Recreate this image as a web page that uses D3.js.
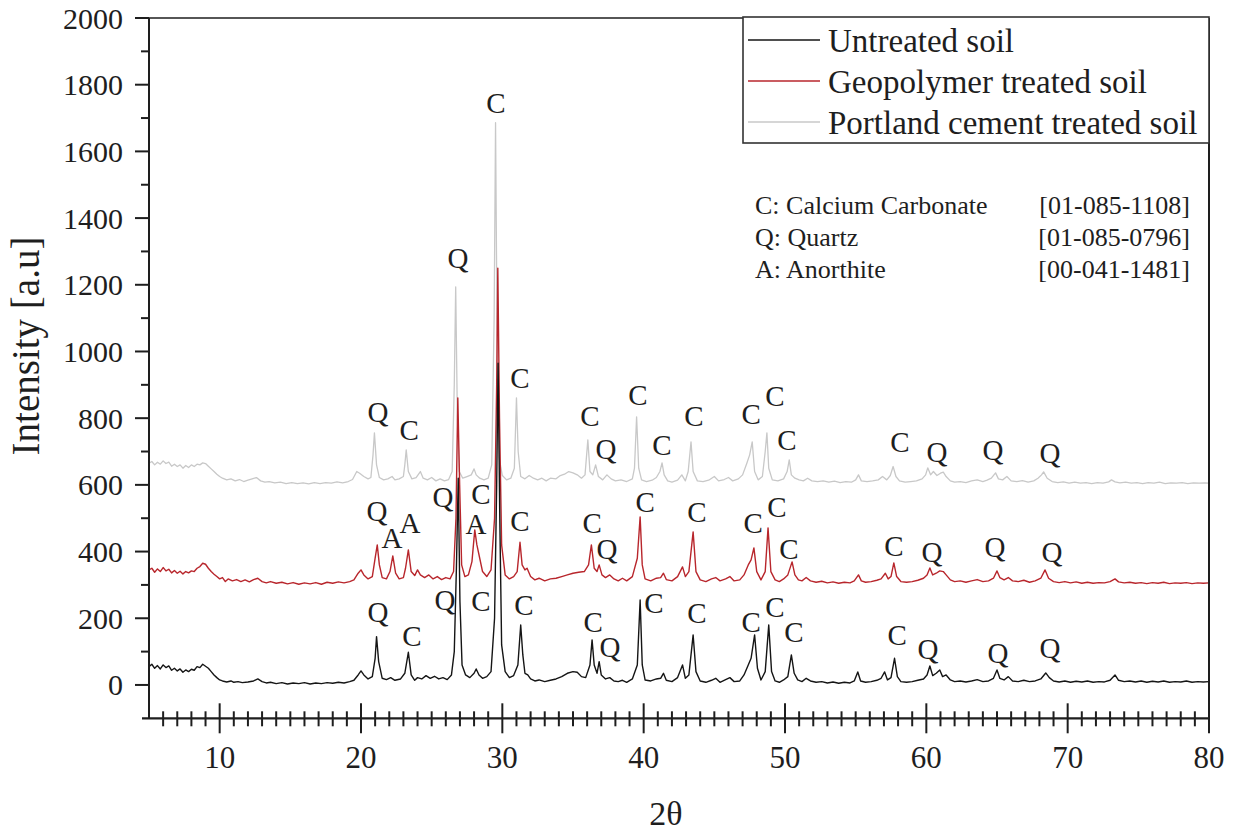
<!DOCTYPE html>
<html><head><meta charset="utf-8">
<script src="https://cdn.jsdelivr.net/npm/d3@7"></script>
<style>body{margin:0;background:#fff}svg{display:block}</style>
</head><body>
<svg id="chart" width="1238" height="834"></svg>
<script>
// ---------- DATA ----------
const seriesNames = ["Untreated soil", "Geopolymer treated soil", "Portland cement treated soil"];
const xTicksMajor = [10, 20, 30, 40, 50, 60, 70, 80];
const yTicksMajor = [0, 200, 400, 600, 800, 1000, 1200, 1400, 1600, 1800, 2000];

// [2theta, intensity]
const untreated = [
[5.0,55],[5.2,62],[5.4,50],[5.6,58],[5.8,48],[6.0,60],[6.2,52],[6.4,57],[6.6,44],[6.8,50],[7.0,42],[7.2,48],[7.4,38],[7.6,45],[7.8,40],[8.0,47],[8.2,44],[8.4,55],[8.6,52],[8.8,62],[9.0,56],[9.2,50],[9.4,40],[9.6,30],[9.8,22],[10.0,15],[10.2,12],[10.5,9],[10.8,12],[11.0,8],[11.3,10],[11.6,7],[12.0,9],[12.4,12],[12.7,18],[13.0,10],[13.3,6],[13.6,8],[14.0,4],[14.4,7],[14.8,3],[15.2,6],[15.6,4],[16.0,7],[16.4,3],[16.8,6],[17.2,4],[17.6,7],[18.0,5],[18.4,8],[18.8,6],[19.2,10],[19.5,14],[19.8,30],[20.0,42],[20.2,30],[20.5,18],[20.8,25],[21.0,80],[21.1,145],[21.25,70],[21.5,20],[21.8,16],[22.1,22],[22.4,14],[22.8,18],[23.1,35],[23.35,98],[23.55,30],[23.8,14],[24.0,22],[24.3,18],[24.6,28],[24.9,20],[25.2,26],[25.5,18],[25.8,22],[26.1,16],[26.4,30],[26.6,100],[26.75,350],[26.88,620],[27.0,250],[27.15,60],[27.4,30],[27.7,22],[28.0,35],[28.15,48],[28.35,30],[28.6,20],[28.9,25],[29.2,40],[29.45,200],[29.6,600],[29.7,965],[29.82,500],[29.95,120],[30.2,40],[30.5,22],[30.8,28],[31.1,60],[31.3,180],[31.45,90],[31.6,35],[31.8,30],[32.0,18],[32.3,12],[32.6,15],[33.0,10],[33.4,14],[33.8,18],[34.2,25],[34.6,35],[35.0,40],[35.3,38],[35.6,25],[35.9,22],[36.2,60],[36.35,135],[36.5,60],[36.7,35],[36.85,70],[37.0,30],[37.3,18],[37.6,22],[37.9,12],[38.2,10],[38.5,14],[38.8,8],[39.2,18],[39.55,60],[39.75,255],[39.9,60],[40.1,15],[40.5,12],[40.9,18],[41.2,20],[41.4,35],[41.6,14],[42.0,10],[42.4,22],[42.75,60],[42.95,20],[43.2,30],[43.5,150],[43.7,40],[44.0,12],[44.4,8],[44.8,14],[45.1,20],[45.4,8],[45.8,16],[46.1,22],[46.4,10],[46.8,12],[47.1,30],[47.4,60],[47.6,80],[47.85,150],[48.05,50],[48.3,15],[48.6,40],[48.85,180],[49.05,40],[49.3,12],[49.6,8],[49.9,15],[50.2,25],[50.45,90],[50.65,35],[50.9,15],[51.2,10],[51.5,20],[51.8,12],[52.2,8],[52.6,10],[53.0,6],[53.4,9],[53.8,5],[54.2,8],[54.6,6],[54.9,12],[55.15,39],[55.35,12],[55.7,8],[56.1,10],[56.5,14],[56.8,20],[57.05,39],[57.25,15],[57.5,22],[57.75,80],[57.95,25],[58.2,10],[58.6,8],[59.0,10],[59.4,14],[59.8,18],[60.05,30],[60.25,57],[60.45,28],[60.7,35],[60.95,45],[61.15,25],[61.4,30],[61.7,15],[62.0,10],[62.4,12],[62.8,9],[63.2,12],[63.6,16],[64.0,10],[64.4,12],[64.75,20],[65.0,45],[65.2,20],[65.5,15],[65.8,25],[66.1,12],[66.5,10],[66.9,14],[67.3,10],[67.7,12],[68.1,18],[68.45,36],[68.7,22],[69.0,12],[69.4,9],[69.8,12],[70.2,8],[70.6,11],[71.0,9],[71.4,12],[71.8,8],[72.2,10],[72.6,9],[73.0,14],[73.35,30],[73.6,14],[74.0,10],[74.4,12],[74.8,9],[75.2,12],[75.6,8],[76.0,11],[76.4,9],[76.8,12],[77.2,8],[77.6,10],[78.0,9],[78.4,12],[78.8,8],[79.2,10],[79.6,9],[80.0,10]
];
const geopolymer = [
[5.0,345],[5.2,350],[5.4,338],[5.6,348],[5.8,340],[6.0,352],[6.2,342],[6.4,347],[6.6,336],[6.8,343],[7.0,335],[7.2,341],[7.4,333],[7.6,340],[7.8,336],[8.0,342],[8.2,340],[8.4,350],[8.6,355],[8.8,365],[9.0,362],[9.2,350],[9.4,340],[9.6,332],[9.8,325],[10.0,318],[10.2,322],[10.4,310],[10.6,318],[10.9,312],[11.2,316],[11.5,310],[11.8,315],[12.1,309],[12.4,316],[12.7,320],[13.0,310],[13.3,306],[13.6,310],[14.0,305],[14.4,308],[14.8,303],[15.2,307],[15.6,302],[16.0,306],[16.4,303],[16.8,307],[17.2,302],[17.6,308],[18.0,305],[18.4,309],[18.8,306],[19.2,310],[19.5,315],[19.8,335],[20.0,345],[20.2,330],[20.5,318],[20.8,325],[21.0,380],[21.15,420],[21.3,360],[21.5,322],[21.8,318],[22.05,340],[22.25,387],[22.45,335],[22.7,318],[23.0,322],[23.15,350],[23.35,405],[23.55,340],[23.8,328],[24.0,345],[24.2,330],[24.5,322],[24.8,330],[25.1,318],[25.4,325],[25.7,316],[26.0,322],[26.3,318],[26.55,340],[26.72,500],[26.85,861],[26.98,600],[27.12,360],[27.35,325],[27.6,330],[27.85,370],[28.05,465],[28.2,420],[28.4,380],[28.6,340],[28.9,325],[29.2,345],[29.45,500],[29.6,900],[29.68,1250],[29.8,800],[29.95,420],[30.2,330],[30.5,318],[30.8,325],[31.05,340],[31.25,428],[31.4,360],[31.6,345],[31.75,350],[32.0,325],[32.3,315],[32.6,320],[33.0,312],[33.4,318],[33.8,320],[34.2,325],[34.6,330],[35.0,335],[35.4,338],[35.8,340],[36.1,360],[36.3,420],[36.5,350],[36.7,340],[36.85,360],[37.05,330],[37.3,322],[37.6,330],[37.9,318],[38.2,312],[38.5,320],[38.8,312],[39.2,325],[39.55,380],[39.75,504],[39.9,360],[40.1,318],[40.5,312],[40.9,320],[41.2,322],[41.4,335],[41.6,316],[42.0,312],[42.4,325],[42.75,354],[42.95,325],[43.2,340],[43.5,459],[43.7,340],[44.0,315],[44.4,310],[44.8,318],[45.1,322],[45.4,312],[45.8,318],[46.1,325],[46.4,312],[46.8,315],[47.1,330],[47.4,360],[47.6,375],[47.8,411],[48.0,340],[48.3,315],[48.6,340],[48.8,471],[49.0,340],[49.3,315],[49.6,310],[49.9,318],[50.2,330],[50.5,369],[50.7,330],[50.95,315],[51.2,312],[51.5,322],[51.8,312],[52.2,308],[52.6,311],[53.0,306],[53.4,309],[53.8,305],[54.2,308],[54.6,306],[54.9,312],[55.2,330],[55.4,312],[55.7,308],[56.1,310],[56.5,314],[56.8,318],[57.1,335],[57.3,318],[57.5,325],[57.7,366],[57.9,325],[58.2,310],[58.6,308],[59.0,310],[59.4,314],[59.8,320],[60.05,330],[60.25,351],[60.45,330],[60.7,335],[60.95,342],[61.2,340],[61.4,330],[61.7,315],[62.0,310],[62.4,312],[62.8,308],[63.2,312],[63.6,316],[64.0,310],[64.4,312],[64.75,320],[65.0,342],[65.2,322],[65.5,315],[65.8,322],[66.1,312],[66.5,310],[66.9,314],[67.3,308],[67.7,312],[68.1,320],[68.4,345],[68.65,320],[69.0,310],[69.4,307],[69.8,310],[70.2,306],[70.6,309],[71.0,305],[71.4,308],[71.8,305],[72.2,307],[72.6,306],[73.0,310],[73.35,318],[73.6,309],[74.0,306],[74.4,308],[74.8,305],[75.2,307],[75.6,304],[76.0,307],[76.4,305],[76.8,308],[77.2,304],[77.6,306],[78.0,305],[78.4,307],[78.8,304],[79.2,306],[79.6,305],[80.0,306]
];
const portland = [
[5.0,665],[5.2,670],[5.4,660],[5.6,668],[5.8,662],[6.0,672],[6.2,664],[6.4,668],[6.6,656],[6.8,662],[7.0,655],[7.2,660],[7.4,650],[7.6,658],[7.8,652],[8.0,660],[8.2,655],[8.4,662],[8.6,660],[8.8,666],[9.0,664],[9.2,656],[9.4,648],[9.6,640],[9.8,632],[10.0,625],[10.2,620],[10.5,615],[10.8,618],[11.1,612],[11.4,616],[11.7,610],[12.0,614],[12.3,618],[12.6,622],[12.9,612],[13.2,608],[13.5,610],[13.9,606],[14.3,608],[14.7,604],[15.1,607],[15.5,604],[15.9,606],[16.3,603],[16.7,607],[17.1,604],[17.5,607],[17.9,605],[18.3,609],[18.7,606],[19.1,610],[19.4,616],[19.7,640],[19.9,635],[20.2,625],[20.5,618],[20.7,622],[20.85,690],[20.95,756],[21.1,660],[21.3,622],[21.6,615],[21.9,618],[22.2,625],[22.4,615],[22.7,618],[23.0,625],[23.1,660],[23.2,705],[23.35,640],[23.6,618],[23.9,622],[24.2,640],[24.4,620],[24.7,615],[25.0,622],[25.3,612],[25.6,618],[25.9,612],[26.2,616],[26.45,640],[26.6,900],[26.7,1194],[26.82,800],[26.95,640],[27.2,620],[27.5,625],[27.8,630],[28.0,648],[28.15,630],[28.4,620],[28.7,615],[29.0,620],[29.25,660],[29.42,1100],[29.52,1686],[29.62,1100],[29.78,680],[30.0,628],[30.3,615],[30.6,620],[30.85,650],[31.0,861],[31.12,700],[31.3,625],[31.6,618],[31.9,628],[32.2,620],[32.5,615],[32.8,620],[33.1,612],[33.4,620],[33.8,618],[34.1,628],[34.4,632],[34.7,640],[35.0,636],[35.3,630],[35.6,620],[35.85,630],[36.05,735],[36.2,640],[36.4,630],[36.6,660],[36.8,625],[37.1,615],[37.4,630],[37.7,618],[38.0,612],[38.4,615],[38.8,610],[39.2,618],[39.35,650],[39.5,804],[39.65,650],[39.85,615],[40.2,610],[40.6,614],[40.9,622],[41.15,640],[41.3,666],[41.45,630],[41.7,612],[42.0,608],[42.4,614],[42.7,630],[42.95,612],[43.15,640],[43.35,729],[43.5,640],[43.8,612],[44.2,610],[44.6,614],[45.0,625],[45.3,612],[45.7,616],[46.0,622],[46.3,612],[46.7,618],[47.0,630],[47.3,665],[47.5,690],[47.68,729],[47.85,640],[48.1,615],[48.4,625],[48.6,700],[48.72,756],[48.85,650],[49.1,615],[49.5,612],[49.9,618],[50.15,640],[50.3,675],[50.45,630],[50.7,620],[51.0,615],[51.3,612],[51.6,620],[51.9,612],[52.3,610],[52.7,612],[53.1,608],[53.5,611],[53.9,607],[54.3,610],[54.7,608],[55.0,615],[55.2,630],[55.4,612],[55.8,610],[56.2,612],[56.6,615],[56.9,625],[57.2,615],[57.45,628],[57.65,655],[57.85,625],[58.1,612],[58.5,608],[58.9,610],[59.3,612],[59.7,618],[59.95,630],[60.1,651],[60.3,630],[60.5,640],[60.75,628],[61.0,635],[61.2,638],[61.4,625],[61.7,612],[62.0,608],[62.4,610],[62.8,607],[63.2,612],[63.6,615],[64.0,610],[64.3,614],[64.6,620],[64.9,636],[65.1,618],[65.4,615],[65.7,625],[66.0,612],[66.4,610],[66.8,613],[67.2,608],[67.6,612],[67.9,620],[68.15,630],[68.3,639],[68.55,620],[68.9,610],[69.3,607],[69.7,609],[70.1,605],[70.5,608],[70.9,605],[71.3,607],[71.7,604],[72.1,607],[72.5,605],[72.9,609],[73.1,615],[73.35,609],[73.7,606],[74.1,608],[74.5,605],[74.9,607],[75.3,604],[75.7,607],[76.1,605],[76.5,608],[76.9,604],[77.3,606],[77.7,605],[78.1,607],[78.5,604],[78.9,606],[79.3,605],[79.7,606],[80.0,605]
];

// peak labels [2theta, intensity, phase]
const peakLabels = [
[21.20,819,"Q"],[23.40,765,"C"],[26.86,1280,"Q"],[29.55,1745,"C"],[31.25,921,"C"],[36.20,807,"C"],[37.34,708,"Q"],[39.60,870,"C"],[41.30,720,"C"],[43.56,807,"C"],[47.60,813,"C"],[49.29,867,"C"],[50.14,735,"C"],[58.14,729,"C"],[60.76,699,"Q"],[64.72,705,"Q"],[68.75,696,"Q"],
[21.13,522,"Q"],[22.19,441,"A"],[23.47,486,"A"],[25.80,564,"Q"],[28.49,572,"C"],[28.14,484,"A"],[31.25,492,"C"],[36.35,486,"C"],[37.41,408,"Q"],[40.10,549,"C"],[43.77,519,"C"],[47.74,486,"C"],[49.43,534,"C"],[50.28,408,"C"],[57.71,417,"C"],[60.40,399,"Q"],[64.86,414,"Q"],[68.89,399,"Q"],
[21.20,219,"Q"],[23.61,147,"C"],[25.94,255,"Q"],[28.49,252,"C"],[31.53,240,"C"],[36.42,189,"C"],[37.62,114,"Q"],[40.73,246,"C"],[43.77,216,"C"],[47.60,189,"C"],[49.29,234,"C"],[50.64,159,"C"],[57.93,150,"C"],[60.12,108,"Q"],[65.07,96,"Q"],[68.75,111,"Q"]
];
const phaseNames = ["C: Calcium Carbonate", "Q: Quartz", "A: Anorthite"];
const phaseCards = ["[01-085-1108]", "[01-085-0796]", "[00-041-1481]"];

// ---------- CHART ----------
const svg = d3.select("#chart");
const x = d3.scaleLinear().domain([5, 80]).range([149, 1209]);
const y = d3.scaleLinear().domain([-100, 2000]).range([718.3, 18]);
const font = "'Liberation Serif','Times New Roman',serif";
const ink = "#1e1e1e";
const colors = ["#151515", "#b8262c", "#c8c8c8"];

const line = d3.line().x(d => x(d[0])).y(d => y(d[1]));

// series (portland behind, untreated on top)
const seriesData = [untreated, geopolymer, portland];
[2, 1, 0].forEach(i => {
  svg.append("path").datum(seriesData[i])
    .attr("d", line).attr("fill", "none")
    .attr("stroke", colors[i]).attr("stroke-width", i === 2 ? 1.3 : 1.4)
    .attr("stroke-linejoin", "round");
});

// frame
const frame = svg.append("g").attr("stroke", ink).attr("stroke-width", 2).attr("fill", "none");
frame.append("line").attr("x1", x(5)).attr("x2", x(5)).attr("y1", y(2000)).attr("y2", y(-100));
frame.append("line").attr("x1", x(80)).attr("x2", x(80)).attr("y1", y(2000)).attr("y2", y(-100));
frame.append("line").attr("x1", x(5)).attr("x2", x(80)).attr("y1", y(2000)).attr("y2", y(2000)).attr("stroke-width", 1.5);

// x axis: ticks crossing the axis line
const xAxisG = svg.append("g").attr("transform", `translate(0,${y(-100)})`);
xAxisG.append("line").attr("x1", x(5) - 7).attr("x2", x(80)).attr("stroke", ink).attr("stroke-width", 2.2);
const minorX = d3.range(6, 81).filter(v => v % 10 !== 0);
xAxisG.selectAll("line.mn").data(minorX).join("line").attr("class", "mn")
  .attr("x1", d => x(d)).attr("x2", d => x(d)).attr("y1", -7).attr("y2", 8)
  .attr("stroke", ink).attr("stroke-width", 2);
xAxisG.selectAll("line.mj").data(xTicksMajor).join("line").attr("class", "mj")
  .attr("x1", d => x(d)).attr("x2", d => x(d)).attr("y1", -15).attr("y2", 15)
  .attr("stroke", ink).attr("stroke-width", 2);
xAxisG.selectAll("text").data(xTicksMajor).join("text")
  .attr("x", d => x(d)).attr("y", 50).attr("text-anchor", "middle")
  .attr("font-family", font).attr("font-size", 31).attr("fill", ink).text(d => d);

// y axis ticks (outward)
const yAxisG = svg.append("g");
const minorY = d3.range(-100, 2000, 200).filter(v => v > -100);
yAxisG.selectAll("line.mn").data(minorY).join("line").attr("class", "mn")
  .attr("x1", x(5) - 8).attr("x2", x(5)).attr("y1", d => y(d)).attr("y2", d => y(d))
  .attr("stroke", ink).attr("stroke-width", 2);
yAxisG.selectAll("line.mj").data(yTicksMajor).join("line").attr("class", "mj")
  .attr("x1", x(5) - 14).attr("x2", x(5)).attr("y1", d => y(d)).attr("y2", d => y(d))
  .attr("stroke", ink).attr("stroke-width", 2);
yAxisG.selectAll("text").data(yTicksMajor).join("text")
  .attr("x", 123).attr("y", d => y(d) + 10.5).attr("text-anchor", "end")
  .attr("font-family", font).attr("font-size", 30).attr("fill", ink).text(d => d);

// axis titles
svg.append("text").attr("transform", "translate(39,346) rotate(-90)")
  .attr("text-anchor", "middle").attr("font-family", font).attr("font-size", 39)
  .attr("fill", ink).text("Intensity [a.u]");
svg.append("text").attr("x", 666).attr("y", 825).attr("text-anchor", "middle")
  .attr("font-family", font).attr("font-size", 34).attr("fill", ink).text("2θ");

// peak labels
svg.append("g").selectAll("text").data(peakLabels).join("text")
  .attr("x", d => x(d[0])).attr("y", d => y(d[1]) + 10)
  .attr("text-anchor", "middle").attr("font-family", font).attr("font-size", 29)
  .attr("fill", ink).text(d => d[2]);

// legend
const lg = svg.append("g");
lg.append("rect").attr("x", 743).attr("y", 17).attr("width", x(80) - 743).attr("height", 126)
  .attr("fill", "#fff").attr("stroke", "#333").attr("stroke-width", 1.6);
seriesNames.forEach((n, i) => {
  const cy = 40 + i * 41;
  lg.append("line").attr("x1", 748).attr("x2", 820).attr("y1", cy).attr("y2", cy)
    .attr("stroke", colors[i]).attr("stroke-width", 1.6);
  lg.append("text").attr("x", 828).attr("y", cy + 12).attr("font-family", font)
    .attr("font-size", 33).attr("fill", ink).text(n);
});

// phase annotation
const ann = svg.append("g").attr("font-family", font).attr("font-size", 26).attr("fill", ink);
phaseNames.forEach((n, i) => {
  const by = 214 + i * 32;
  ann.append("text").attr("x", 755).attr("y", by).text(n);
  ann.append("text").attr("x", 1190).attr("y", by).attr("text-anchor", "end").text(phaseCards[i]);
});
</script>
</body></html>
